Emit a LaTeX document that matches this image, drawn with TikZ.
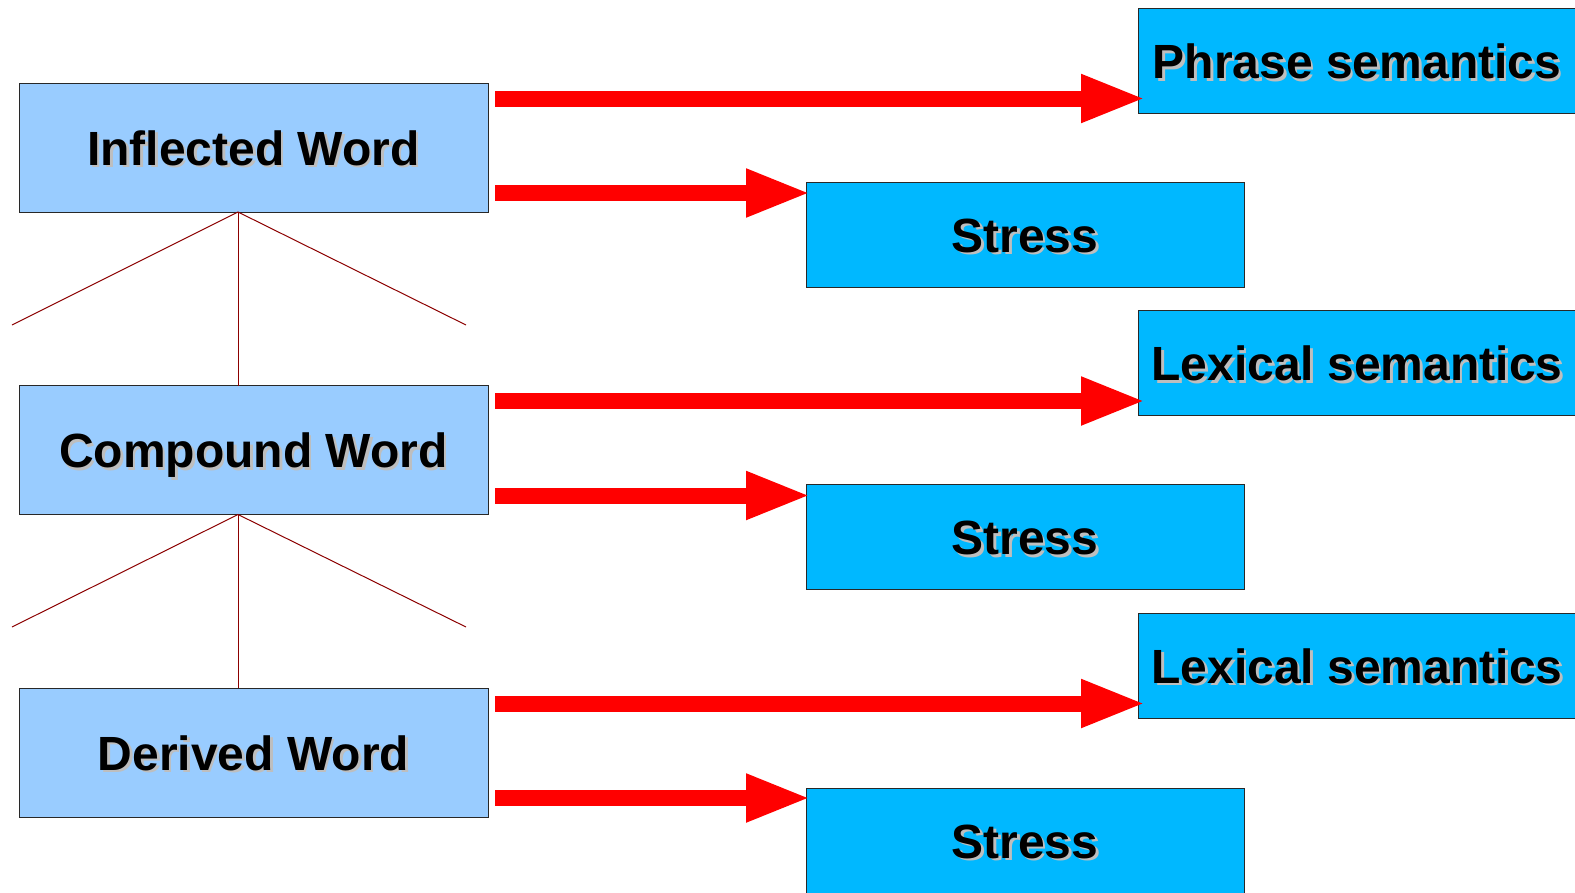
\documentclass[tikz,border=0pt]{standalone}
\usepackage{fontspec}
\setmainfont{Liberation Sans}
\usetikzlibrary{arrows.meta}
\definecolor{lightbox}{RGB}{153,204,255}
\definecolor{skybox}{RGB}{0,184,255}
\definecolor{boxline}{RGB}{40,40,40}
\definecolor{treered}{RGB}{140,0,0}
\definecolor{shadowgray}{RGB}{190,190,190}
\newcommand{\shtext}[1]{\rlap{\kern2.5pt\raisebox{-2.5pt}{\textcolor{shadowgray}{#1}}}#1}
\begin{document}
\begin{tikzpicture}[x=1pt,y=1pt,yscale=-1,xscale=1,
  leftbox/.style={draw=boxline,line width=1pt,fill=lightbox,minimum width=469pt,minimum height=129pt,inner sep=0pt,outer sep=0pt,text height=35pt,text depth=0pt,font=\fontsize{48}{56}\bfseries\selectfont},
  rightbox/.style={draw=boxline,line width=1pt,fill=skybox,minimum width=438pt,minimum height=105pt,inner sep=0pt,outer sep=0pt,text height=35pt,text depth=0pt,font=\fontsize{48}{56}\bfseries\selectfont},
  treeline/.style={draw=treered,line width=1pt},
  bigarrow/.style={draw=red,line width=16pt,-{Triangle[length=65pt,width=44pt]}}]
\path[use as bounding box,fill=white] (0,0) rectangle (1575,892);

%Shape: Rectangle (word levels)
\node[leftbox] (inflected) at (253.5,147.5) {\shtext{Inflected Word}};
\node[leftbox] (compound) at (253.5,450) {\shtext{Compound Word}};
\node[leftbox] (derived) at (253.5,752.5) {\shtext{Derived Word}};

%Shape: Rectangle (semantics)
\node[rightbox] (phrase) at (1357,61) {\shtext{Phrase semantics}};
\node[rightbox] (lexicalA) at (1357,363) {\shtext{Lexical semantics}};
\node[rightbox] (lexicalB) at (1357,665.5) {\shtext{Lexical semantics}};

%Shape: Rectangle (stress)
\node[rightbox] (stressA) at (1025,234.5) {\shtext{Stress}};
\node[rightbox] (stressB) at (1025,537) {\shtext{Stress}};
\node[rightbox] (stressC) at (1025,840.5) {\shtext{Stress}};

%Straight Lines (tree)
\coordinate (topA) at ([xshift=-15.5pt]inflected.south);
\coordinate (topB) at ([xshift=-15.5pt]compound.south);
\coordinate (legA) at (12,325);
\coordinate (legB) at (466,325);
\coordinate (legC) at (12,627);
\coordinate (legD) at (466,627);
\draw[treeline] (legA) -- (topA) -- (legB);
\draw[treeline] (topA) -- (topA |- compound.north);
\draw[treeline] (legC) -- (topB) -- (legD);
\draw[treeline] (topB) -- (topB |- derived.north);

%Arrows
\coordinate (startA) at ([xshift=7pt,yshift=15.5pt]inflected.north east);
\coordinate (startB) at ([xshift=7pt,yshift=-19pt]inflected.south east);
\coordinate (startC) at ([xshift=7pt,yshift=15.5pt]compound.north east);
\coordinate (startD) at ([xshift=7pt,yshift=-19pt]compound.south east);
\coordinate (startE) at ([xshift=7pt,yshift=15.5pt]derived.north east);
\coordinate (startF) at ([xshift=7pt,yshift=-19pt]derived.south east);
\draw[bigarrow] (startA) -- ([xshift=8pt]startA -| phrase.west);
\draw[bigarrow] (startB) -- ([xshift=5pt]startB -| stressA.west);
\draw[bigarrow] (startC) -- ([xshift=8pt]startC -| lexicalA.west);
\draw[bigarrow] (startD) -- ([xshift=5pt]startD -| stressB.west);
\draw[bigarrow] (startE) -- ([xshift=8pt]startE -| lexicalB.west);
\draw[bigarrow] (startF) -- ([xshift=5pt]startF -| stressC.west);

\end{tikzpicture}
\end{document}
